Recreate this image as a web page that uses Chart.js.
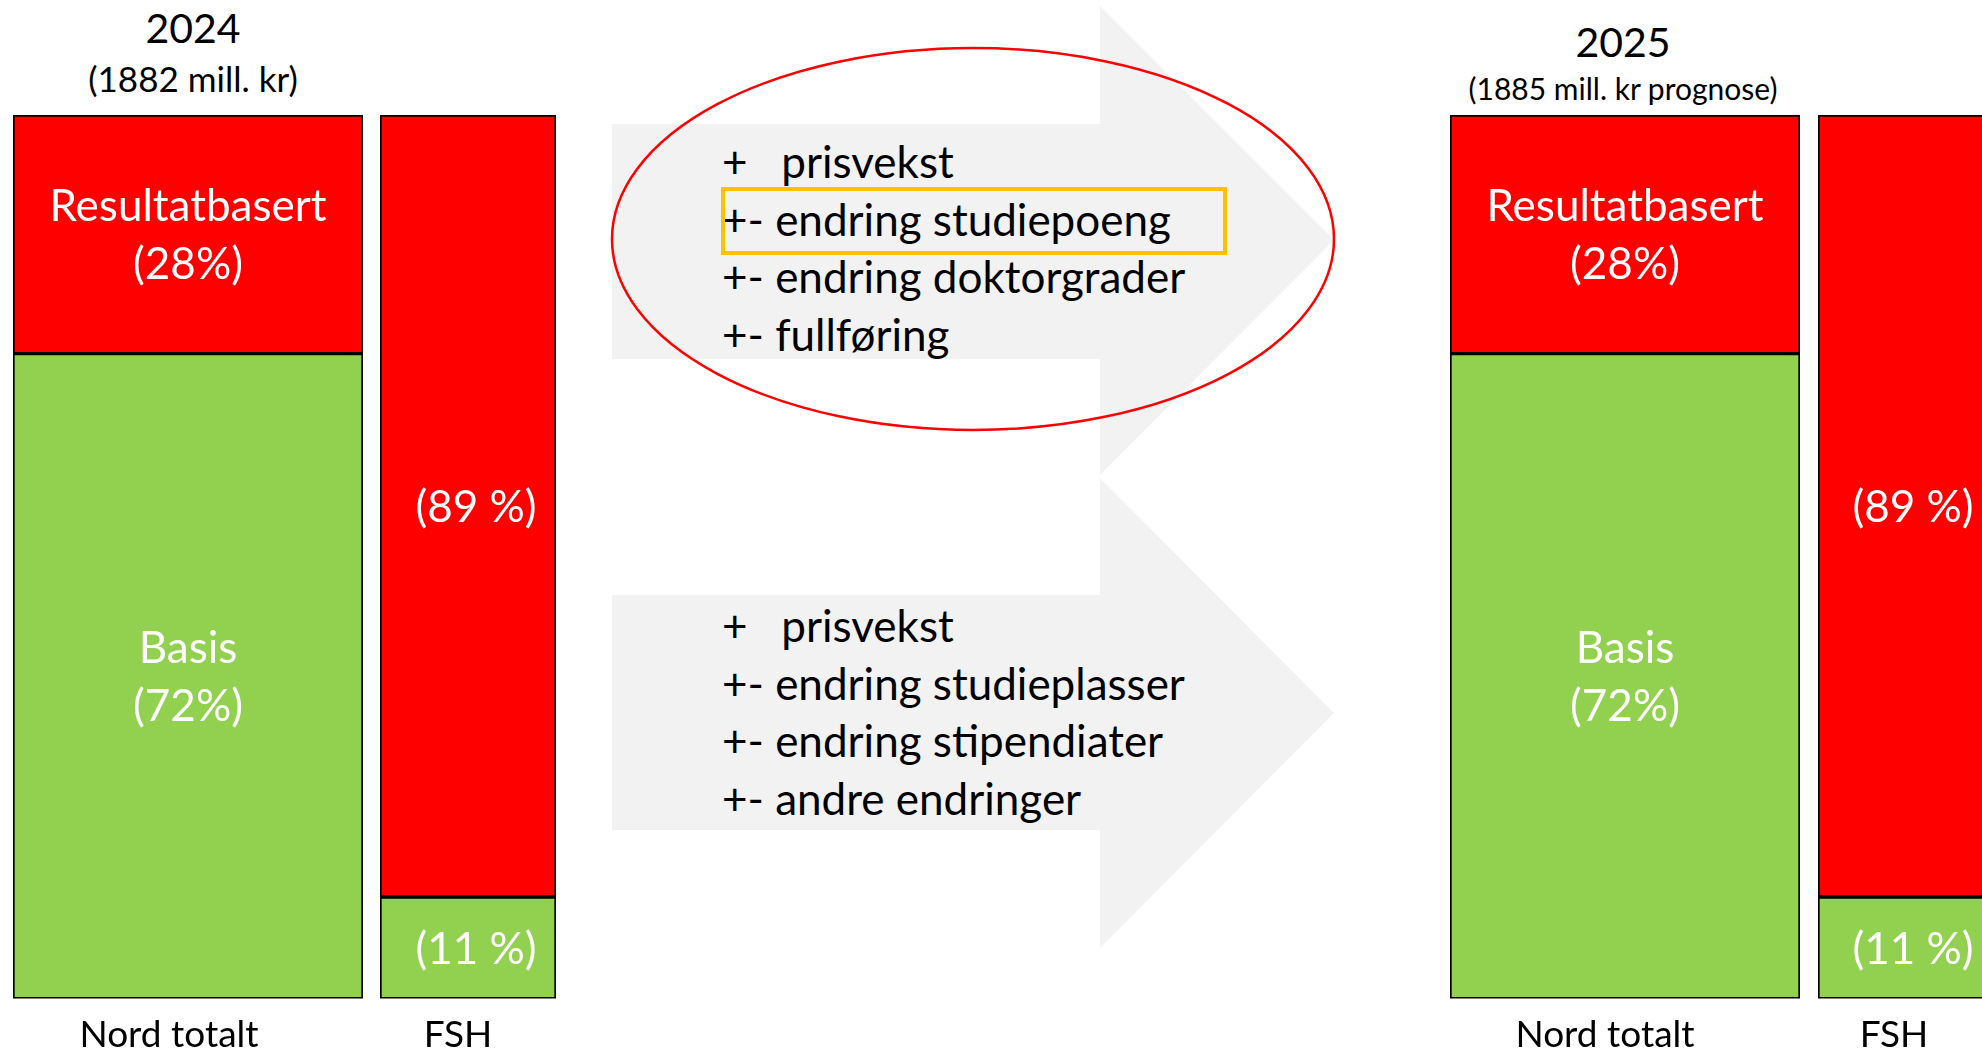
<!DOCTYPE html>
<html>
<head>
<meta charset="utf-8">
<script src="https://cdn.jsdelivr.net/npm/chart.js@4.4.1/dist/chart.umd.min.js"></script>
<style>
  html, body { margin: 0; padding: 0; width: 1982px; height: 1048px; overflow: hidden; background: #fff; font-family: Lato, 'Open Sans', sans-serif; }
  .bar { position: absolute; top: 0; }
  .head { position: absolute; width: 500px; text-align: center; color: #000; white-space: nowrap; }
  .faktorer { position: absolute; left: 722px; font-size: 44px; line-height: 57.5px; white-space: pre; color: #000; }
  svg { position: absolute; left: 0; top: 0; }
</style>
</head>
<body>
<svg width="1982" height="1048">
  <polygon points="612,124 1100,124 1100,6 1334,240 1100,475 1100,359 612,359" fill="#f2f2f2"/>
  <polygon points="612,595 1100,595 1100,478 1334,713 1100,948 1100,830 612,830" fill="#f2f2f2"/>
</svg>
<div class="faktorer" id="faktorer-opp" style="top:133px"></div>
<div class="faktorer" id="faktorer-ned" style="top:597px"></div>
<svg width="1982" height="1048">
  <ellipse cx="973" cy="239" rx="361" ry="191" fill="none" stroke="#ff0000" stroke-width="2.5"/>
  <rect x="723" y="189" width="502" height="64" fill="none" stroke="#ffc000" stroke-width="4"/>
</svg>

<div class="head" style="left:-57px; top:3px; font-size:41px; line-height:50px">2024</div>
<div class="head" id="sum-2024" style="left:-57px; top:57px; font-size:35px; line-height:42px"></div>
<div class="head" style="left:1373px; top:17px; font-size:41px; line-height:50px">2025</div>
<div class="head" id="sum-2025" style="left:1373px; top:70px; font-size:30px; line-height:36px"></div>

<div class="bar" style="left:13px"><canvas id="nord-2024" width="350" height="1063"></canvas></div>
<div class="bar" style="left:380px"><canvas id="fsh-2024" width="176" height="1063"></canvas></div>
<div class="bar" style="left:1450px"><canvas id="nord-2025" width="350" height="1063"></canvas></div>
<div class="bar" style="left:1818px"><canvas id="fsh-2025" width="176" height="1063"></canvas></div>

<script>
const aar = ['2024', '2025'];
const totaler = ['(1882 mill. kr)', '(1885 mill. kr prognose)'];
const enheter = ['Nord totalt', 'FSH'];
// høyder lest av stolpene
const resultatAndel2024 = [27, 88.5];
const basisAndel2024 = [73, 11.5];
const resultatAndel2025 = [27, 88.5];
const basisAndel2025 = [73, 11.5];
// prosenttekst slik den står i stolpene
const resultatTekst = ['(28%)', '(89 %)'];
const basisTekst = ['(72%)', '(11 %)'];
const delNavn = ['Resultatbasert', 'Basis'];
const visNavn = [true, false];

const faktorerOpp = ['+   prisvekst', '+- endring studiepoeng', '+- endring doktorgrader', '+- fullføring'];
const faktorerNed = ['+   prisvekst', '+- endring studieplasser', '+- endring stipendiater', '+- andre endringer'];

document.querySelector('#sum-2024').textContent = totaler[0];
document.querySelector('#sum-2025').textContent = totaler[1];
document.querySelector('#faktorer-opp').textContent = faktorerOpp.join('\n');
document.querySelector('#faktorer-ned').textContent = faktorerNed.join('\n');

const rod = '#ff0000';
const gronn = '#92d050';

// skriver tekst midt i hver del av stolpen
const delTekst = {
    id: 'delTekst',
    afterDatasetsDraw(chart, args, opts) {
        const ctx = chart.ctx;
        ctx.save();
        ctx.fillStyle = '#fff';
        ctx.font = '44px Lato';
        ctx.textAlign = 'center';
        ctx.textBaseline = 'middle';
        chart.data.datasets.forEach((ds, i) => {
            const meta = chart.getDatasetMeta(i);
            meta.data.forEach(bar => {
                const { x, y, base } = bar.getProps(['x', 'y', 'base'], true);
                const midt = (y + base) / 2 + 2;
                const linjer = ds.tekst;
                const start = midt - (linjer.length - 1) * 29;
                linjer.forEach((t, k) => ctx.fillText(t, x + (opts.dx || 0), start + k * 58));
            });
        });
        ctx.restore();
    }
};

function lagStolpe(id, enhet, resultat, basis, labelOffset, tekstDx) {
    const tekstBasis = visNavn[enhet] ? [delNavn[1], basisTekst[enhet]] : [basisTekst[enhet]];
    const tekstResultat = visNavn[enhet] ? [delNavn[0], resultatTekst[enhet]] : [resultatTekst[enhet]];

    return new Chart(document.getElementById(id), {
        type: 'bar',
        data: {
            labels: [enheter[enhet]],
            datasets: [{
                label: delNavn[1],
                data: [basis],
                backgroundColor: gronn,
                borderColor: '#000',
                borderWidth: 2,
                borderSkipped: false,
                tekst: tekstBasis
            }, {
                label: delNavn[0],
                data: [resultat],
                backgroundColor: rod,
                borderColor: '#000',
                borderWidth: 2,
                borderSkipped: false,
                tekst: tekstResultat
            }]
        },
        options: {
            responsive: false,
            animation: false,
            layout: { padding: { top: 115, left: 0, right: 0, bottom: 0 } },
            datasets: { bar: { barPercentage: 1, categoryPercentage: 1 } },
            plugins: {
                legend: { display: false },
                tooltip: { enabled: false },
                delTekst: { dx: tekstDx }
            },
            scales: {
                x: {
                    stacked: true,
                    grid: { display: false },
                    border: { display: false },
                    ticks: {
                        color: '#000',
                        font: { family: 'Lato', size: 37 },
                        padding: 6,
                        labelOffset: labelOffset
                    }
                },
                y: { stacked: true, display: false, min: 0, max: 100 }
            }
        },
        plugins: [delTekst]
    });
}

lagStolpe('nord-2024', 0, resultatAndel2024[0], basisAndel2024[0], -19, 0);
lagStolpe('fsh-2024', 1, resultatAndel2024[1], basisAndel2024[1], -10, 8);
lagStolpe('nord-2025', 0, resultatAndel2025[0], basisAndel2025[0], -20, 0);
lagStolpe('fsh-2025', 1, resultatAndel2025[1], basisAndel2025[1], -12, 7);
</script>
</body>
</html>
